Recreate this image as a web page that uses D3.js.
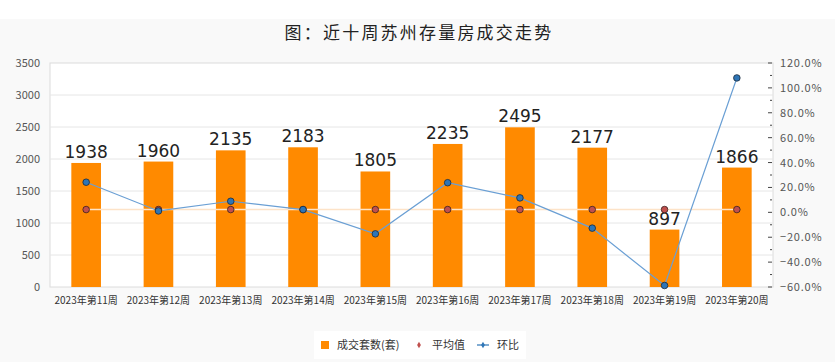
<!DOCTYPE html>
<html><head><meta charset="utf-8">
<script src="https://cdn.jsdelivr.net/npm/d3@7"></script>
<style>
html,body{margin:0;padding:0;background:#fff;}
text{font-family:"Noto Sans CJK SC","Noto Sans",sans-serif;}
</style></head>
<body><svg id="c" width="835" height="362"></svg>
<script>
const categories = ["2023年第11周","2023年第12周","2023年第13周","2023年第14周","2023年第15周","2023年第16周","2023年第17周","2023年第18周","2023年第19周","2023年第20周"];
const deals = [1938,1960,2135,2183,1805,2235,2495,2177,897,1866];
const average = [1210,1210,1210,1210,1210,1210,1210,1210,1210,1210];
const mom = [24.2,1.1,8.9,2.2,-17.3,23.8,11.6,-12.7,-58.8,108.0];
const leftTicks = [0,500,1000,1500,2000,2500,3000,3500];
const rightTicks = [-60,-40,-20,0,20,40,60,80,100,120];
const title = "图：近十周苏州存量房成交走势";
const legendNames = ["成交套数(套)","平均值","环比"];

const W=835,H=362;
const m={l:50,r:62,t:63,b:75};
const svg=d3.select("#c");
svg.append("rect").attr("x",0).attr("y",19).attr("width",W).attr("height",H-19).attr("fill","#f9f9f9");
svg.append("text").attr("x",419).attr("y",39).attr("text-anchor","middle")
  .attr("font-size",17).attr("letter-spacing",2.2).attr("fill","#222").attr("font-weight",400).text(title);

const x=d3.scaleBand().domain(categories).range([m.l,W-m.r]).paddingInner(0.59).paddingOuter(0.295);
const y=d3.scaleLinear().domain([0,3500]).range([H-m.b,m.t]);
const y2=d3.scaleLinear().domain([-60,120]).range([H-m.b,m.t]);
const cx=d=>x(d)+x.bandwidth()/2;

// plot area
svg.append("rect").attr("x",m.l).attr("y",m.t).attr("width",W-m.r-m.l).attr("height",H-m.b-m.t)
  .attr("fill","#fff").attr("stroke","#dcdcdc");
svg.append("g").selectAll("line").data(leftTicks.slice(1,-1)).join("line")
  .attr("x1",m.l).attr("x2",W-m.r).attr("y1",d=>y(d)).attr("y2",d=>y(d)).attr("stroke","#e6e6e6");

// left axis labels
svg.append("g").selectAll("text").data(leftTicks).join("text")
  .attr("x",40).attr("y",d=>y(d)+4).attr("text-anchor","end").attr("font-size",11).attr("fill","#555").text(d=>d);

// right axis
const ra=svg.append("g");
ra.selectAll("text").data(rightTicks).join("text")
  .attr("x",780).attr("y",d=>y2(d)+4).attr("font-size",11).attr("letter-spacing",0.8).attr("fill","#555")
  .text(d=>d3.format(".1f")(d)+"%");
ra.selectAll("line.maj").data(rightTicks).join("line").attr("class","maj")
  .attr("x1",W-m.r-5).attr("x2",W-m.r-1).attr("y1",d=>y2(d)).attr("y2",d=>y2(d)).attr("stroke","#444");
ra.selectAll("line.min").data(rightTicks.slice(0,-1).map(d=>d+10)).join("line").attr("class","min")
  .attr("x1",W-m.r-3).attr("x2",W-m.r-1).attr("y1",d=>y2(d)).attr("y2",d=>y2(d)).attr("stroke","#444");

// bars
svg.append("g").selectAll("rect").data(deals).join("rect")
  .attr("x",(d,i)=>x(categories[i])).attr("width",x.bandwidth())
  .attr("y",d=>y(d)).attr("height",d=>y(0)-y(d)).attr("fill","#ff8a00");
svg.append("g").selectAll("text").data(deals).join("text")
  .attr("x",(d,i)=>cx(categories[i])).attr("y",d=>y(d)-5).attr("text-anchor","middle")
  .attr("font-size",17).attr("fill","#222").style("font-family","'DejaVu Sans',sans-serif").text(d=>d);

// x labels
svg.append("g").selectAll("text").data(categories).join("text")
  .attr("x",d=>cx(d)).attr("y",304).attr("text-anchor","middle").attr("font-size",10).attr("fill","#333").text(d=>d);

// average line
const avgLine=d3.line().x((d,i)=>cx(categories[i])).y(d=>y(d));
svg.append("path").datum(average).attr("d",avgLine).attr("fill","none").attr("stroke","#fde3c8").attr("stroke-width",1.5);

// mom line
const momLine=d3.line().x((d,i)=>cx(categories[i])).y(d=>y2(d));
svg.append("path").datum(mom).attr("d",momLine).attr("fill","none").attr("stroke","#6a9fd4").attr("stroke-width",1.2);

svg.append("g").selectAll("circle").data(average).join("circle")
  .attr("cx",(d,i)=>cx(categories[i])).attr("cy",d=>y(d)).attr("r",3.3)
  .attr("fill","#c0504d").attr("stroke","#3a2020").attr("stroke-width",0.8);
svg.append("g").selectAll("circle").data(mom).join("circle")
  .attr("cx",(d,i)=>cx(categories[i])).attr("cy",d=>y2(d)).attr("r",3.3)
  .attr("fill","#2e75b6").attr("stroke","#1a2a3a").attr("stroke-width",0.8);

// legend
const lg=svg.append("g");
lg.append("rect").attr("x",314).attr("y",331).attr("width",212).attr("height",28).attr("fill","#fff");
lg.append("rect").attr("x",321).attr("y",341).attr("width",8).attr("height",8).attr("fill","#ff8a00");
lg.append("text").attr("x",337).attr("y",349).attr("font-size",11).attr("fill","#333").text(legendNames[0]);
lg.append("path").attr("d",d3.symbol(d3.symbolDiamond,12)()).attr("transform","translate(419,345)").attr("fill","#c0504d");
lg.append("text").attr("x",432).attr("y",349).attr("font-size",11).attr("fill","#333").text(legendNames[1]);
lg.append("line").attr("x1",477).attr("x2",489).attr("y1",345).attr("y2",345).attr("stroke","#2e75b6").attr("stroke-width",1.2);
lg.append("path").attr("d",d3.symbol(d3.symbolDiamond,12)()).attr("transform","translate(483,345)").attr("fill","#2e75b6");
lg.append("text").attr("x",497).attr("y",349).attr("font-size",11).attr("fill","#333").text(legendNames[2]);
</script></body></html>
